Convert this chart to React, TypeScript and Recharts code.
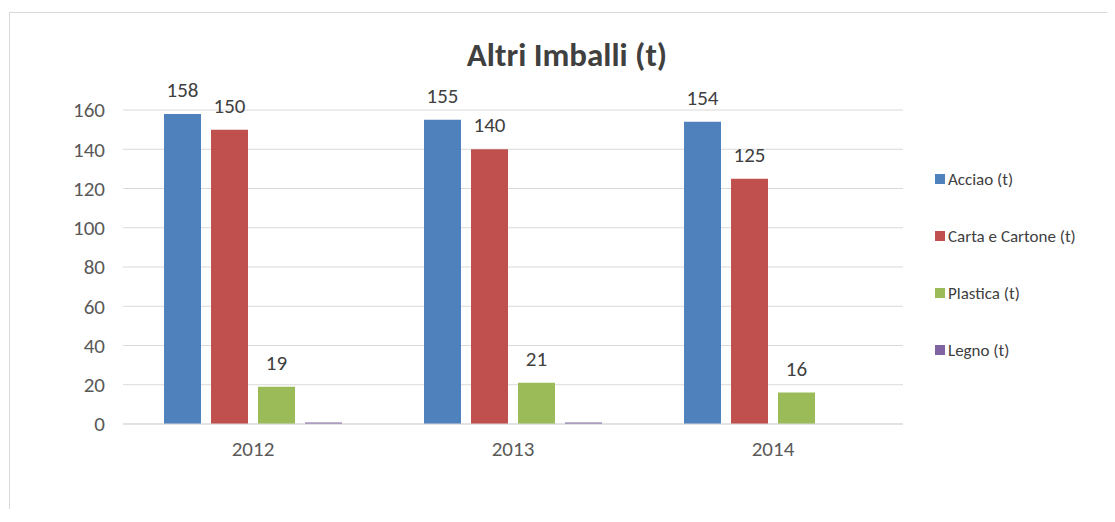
import React from "react";
import { BarChart, Bar, XAxis, YAxis, CartesianGrid, LabelList } from "recharts";

const years = ["2012", "2013", "2014"];
const acciao = [158, 155, 154];
const carta = [150, 140, 125];
const plastica = [19, 21, 16];
const legno = [0.8, 0.8, 0];
const yTicks = [0, 20, 40, 60, 80, 100, 120, 140, 160];

const series = [
  { key: "acciao", name: "Acciao (t)", color: "#4F81BD", labels: true },
  { key: "carta", name: "Carta e Cartone (t)", color: "#C0504D", labels: true },
  { key: "plastica", name: "Plastica (t)", color: "#9BBB59", labels: true },
  { key: "legno", name: "Legno (t)", color: "#8064A2", labels: false },
];

const data = years.map((y, i) => ({
  year: y,
  acciao: acciao[i],
  carta: carta[i],
  plastica: plastica[i],
  legno: legno[i],
}));

const font = "'Liberation Sans Narrow', Calibri, Carlito, Lato, sans-serif";

export default function App() {
  return (
    <div
      style={{
        position: "relative",
        top: 4,
        left: 1,
        width: 1106,
        height: 500,
        borderTop: "1px solid #d9d9d9",
        borderLeft: "1px solid #d9d9d9",
        fontFamily: font,
      }}
    >
      <div
        style={{
          position: "absolute",
          left: 357,
          width: 400,
          top: 22,
          textAlign: "center",
          fontSize: 33,
          fontWeight: "bold",
          color: "#404040",
          lineHeight: "40px",
        }}
      >
        Altri Imballi (t)
      </div>
      <BarChart
        width={1105}
        height={500}
        data={data}
        margin={{ top: 97, right: 212, left: 0, bottom: 59 }}
        barCategoryGap={41}
        barGap={10}
      >
        <CartesianGrid vertical={false} stroke="#d9d9d9" />
        <XAxis
          dataKey="year"
          height={30}
          axisLine={{ stroke: "#d9d9d9" }}
          tickLine={false}
          tickSize={0}
          tickMargin={17}
          tick={{ fill: "#595959", fontSize: 21, fontFamily: font }}
        />
        <YAxis
          width={113}
          domain={[0, 160]}
          ticks={yTicks}
          axisLine={false}
          tickLine={false}
          tickSize={0}
          tickMargin={18}
          tick={{ fill: "#595959", fontSize: 21, fontFamily: font }}
        />
        {series.map((s) => (
          <Bar key={s.key} dataKey={s.key} name={s.name} fill={s.color} isAnimationActive={false}>
            {s.labels && (
              <LabelList
                dataKey={s.key}
                position="top"
                offset={17}
                fill="#404040"
                fontSize={21}
                fontFamily={font}
              />
            )}
          </Bar>
        ))}
      </BarChart>
      <div style={{ position: "absolute", left: 925, top: 0 }}>
        {series.map((s, i) => (
          <div
            key={s.key}
            style={{
              position: "absolute",
              top: 155 + i * 57,
              left: 0,
              height: 22,
              display: "flex",
              alignItems: "center",
              whiteSpace: "nowrap",
              fontSize: 17,
              color: "#404040",
            }}
          >
            <span style={{ display: "inline-block", width: 10, height: 10, background: s.color, marginRight: 3 }} />
            {s.name}
          </div>
        ))}
      </div>
    </div>
  );
}
